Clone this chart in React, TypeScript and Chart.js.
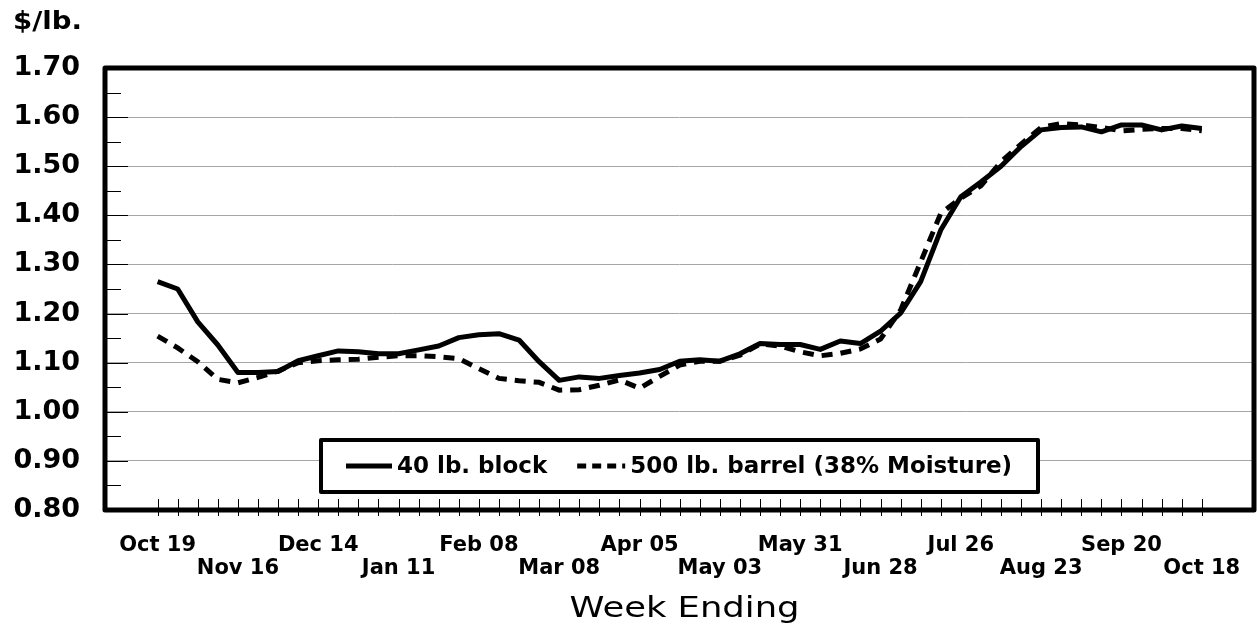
import React, { useEffect, useRef } from "react";
import { Chart, registerables } from "chart.js";

Chart.register(...registerables);

// ---- Data ----
const weekLabels = [
  "Oct 19", "Nov 16", "Dec 14", "Jan 11", "Feb 08", "Mar 08", "Apr 05",
  "May 03", "May 31", "Jun 28", "Jul 26", "Aug 23", "Sep 20", "Oct 18",
];

const blockPrices = [
  1.265, 1.25, 1.183, 1.136, 1.08, 1.08, 1.082, 1.104, 1.114, 1.124,
  1.122, 1.118, 1.118, 1.126, 1.134, 1.151, 1.157, 1.159, 1.146, 1.102,
  1.064, 1.071, 1.068, 1.074, 1.079, 1.086, 1.103, 1.106, 1.103, 1.118,
  1.139, 1.137, 1.137, 1.127, 1.144, 1.139, 1.164, 1.201, 1.265, 1.37,
  1.438, 1.468, 1.5, 1.54, 1.574, 1.579, 1.58, 1.57, 1.584, 1.584,
  1.574, 1.582, 1.577,
];

const barrelPrices = [
  1.154, 1.13, 1.102, 1.066, 1.059, 1.07, 1.083, 1.1, 1.104, 1.106,
  1.107, 1.111, 1.114, 1.114, 1.112, 1.108, 1.088, 1.068, 1.063, 1.06,
  1.044, 1.045, 1.054, 1.065, 1.048, 1.072, 1.095, 1.103, 1.103, 1.115,
  1.138, 1.134, 1.122, 1.114, 1.119, 1.128, 1.148, 1.207, 1.305, 1.404,
  1.435, 1.46, 1.509, 1.545, 1.579, 1.587, 1.584, 1.579, 1.572, 1.575,
  1.577, 1.577, 1.572,
];

const yTickValues = [0.8, 0.9, 1.0, 1.1, 1.2, 1.3, 1.4, 1.5, 1.6, 1.7];
const yMinorTickValues = [0.85, 0.95, 1.05, 1.15, 1.25, 1.35, 1.45, 1.55, 1.65];
const seriesNames = ["40 lb. block", "500 lb. barrel (38% Moisture)"];
const yAxisTitle = "$/lb.";
const xAxisTitle = "Week Ending";
const labelEvery = 4;

const FONT = "'DejaVu Sans', 'Liberation Sans', sans-serif";

function drawStretched(
  ctx: CanvasRenderingContext2D,
  text: string,
  x: number,
  y: number,
  font: string,
  targetWidth: number,
  align: "left" | "center" | "right"
) {
  ctx.save();
  ctx.font = font;
  const w = ctx.measureText(text).width;
  const sx = targetWidth / w;
  let left = x;
  if (align === "center") left = x - targetWidth / 2;
  if (align === "right") left = x - targetWidth;
  ctx.translate(left, y);
  ctx.scale(sx, 1);
  ctx.textAlign = "left";
  ctx.textBaseline = "alphabetic";
  ctx.fillText(text, 0, 0);
  ctx.restore();
}

const decorPlugin = {
  id: "decor",
  afterDraw(chart: any) {
    const { ctx, chartArea: ca, scales } = chart;
    const xs = scales.x;
    const ys = scales.y;
    ctx.save();
    ctx.strokeStyle = "#000";
    ctx.fillStyle = "#000";
    ctx.lineWidth = 1;

    // inner y tick marks
    ctx.beginPath();
    yTickValues.forEach((v) => {
      const y = Math.round(ys.getPixelForValue(v)) + 0.5;
      ctx.moveTo(ca.left, y);
      ctx.lineTo(ca.left + 23, y);
    });
    yMinorTickValues.forEach((v) => {
      const y = Math.round(ys.getPixelForValue(v)) + 0.5;
      ctx.moveTo(ca.left, y);
      ctx.lineTo(ca.left + 16, y);
    });
    // weekly x tick marks crossing the bottom axis
    for (let i = 0; i < blockPrices.length; i++) {
      const x = Math.round(xs.getPixelForValue(i)) + 0.5;
      ctx.moveTo(x, ca.bottom - 11);
      ctx.lineTo(x, ca.bottom + 6);
    }
    ctx.stroke();

    // heavy frame
    ctx.lineWidth = 5;
    ctx.lineJoin = "round";
    ctx.strokeRect(ca.left, ca.top, ca.right - ca.left, ca.bottom - ca.top);

    // titles
    drawStretched(ctx, yAxisTitle, ys.right - 23, 29, `bold 25px ${FONT}`, 69, "right");
    drawStretched(
      ctx,
      xAxisTitle,
      (ca.left + ca.right) / 2 + 5,
      617,
      `28px ${FONT}`,
      230,
      "center"
    );

    // legend box inside the plot
    const boxW = 717;
    const boxH = 52;
    const bx = Math.round((ca.left + ca.right) / 2 - boxW / 2);
    const by = 440;
    ctx.fillStyle = "#fff";
    ctx.fillRect(bx, by, boxW, boxH);
    ctx.lineWidth = 4;
    ctx.strokeStyle = "#000";
    ctx.strokeRect(bx, by, boxW, boxH);

    const ds = chart.data.datasets;
    const cy = by + boxH / 2;
    ctx.font = `bold 23px ${FONT}`;
    ctx.fillStyle = "#000";
    ctx.textBaseline = "middle";
    ctx.textAlign = "left";

    // entry 1: solid
    let sx = bx + 25;
    ctx.lineWidth = 5;
    ctx.setLineDash([]);
    ctx.beginPath();
    ctx.moveTo(sx, cy);
    ctx.lineTo(sx + 46, cy);
    ctx.stroke();
    ctx.fillText(ds[0].label, sx + 51, cy + 1);
    const w1 = ctx.measureText(ds[0].label).width;

    // entry 2: dashed
    sx = sx + 51 + w1 + 30;
    ctx.setLineDash([9, 6]);
    ctx.beginPath();
    ctx.moveTo(sx, cy);
    ctx.lineTo(sx + 48, cy);
    ctx.stroke();
    ctx.setLineDash([]);
    ctx.fillText(ds[1].label, sx + 53, cy + 1);

    ctx.restore();
  },
};

export default function App() {
  const canvasRef = useRef<HTMLCanvasElement | null>(null);

  useEffect(() => {
    const canvas = canvasRef.current;
    if (!canvas) return;

    const chart = new Chart(canvas, {
      type: "line",
      data: {
        datasets: [
          {
            label: seriesNames[0],
            data: blockPrices.map((v, i) => ({ x: i, y: v })),
            borderColor: "#000",
            borderWidth: 5,
            pointRadius: 0,
            tension: 0,
            borderJoinStyle: "round",
            fill: false,
            order: 1,
          },
          {
            label: seriesNames[1],
            data: barrelPrices.map((v, i) => ({ x: i, y: v })),
            borderColor: "#000",
            borderWidth: 5,
            borderDash: [11, 8],
            pointRadius: 0,
            tension: 0,
            fill: false,
            order: 0,
          },
        ],
      },
      options: {
        animation: false,
        responsive: false,
        devicePixelRatio: 1,
        layout: { padding: { top: 68, right: 3, left: 0, bottom: 0 } },
        plugins: {
          legend: { display: false },
          tooltip: { enabled: false },
          title: { display: false },
        },
        scales: {
          x: {
            type: "linear",
            min: -2.62,
            max: 54.6,
            afterBuildTicks: (s: any) => {
              s.ticks = blockPrices.map((_, i) => ({ value: i }));
            },
            afterFit: (s: any) => {
              s.height = 114;
              s.paddingLeft = 0;
              s.paddingRight = 0;
            },
            grid: { display: false, drawTicks: false },
            border: { display: false },
            ticks: {
              autoSkip: false,
              maxRotation: 0,
              minRotation: 0,
              padding: 25,
              color: "#000",
              font: { family: FONT, weight: "bold", size: 21, lineHeight: 1.05 },
              callback: (value: any) => {
                const i = Number(value);
                if (i % labelEvery !== 0) return "";
                const k = i / labelEvery;
                const lab = weekLabels[k];
                if (lab === undefined) return "";
                return k % 2 === 0 ? lab : ["", lab];
              },
            },
          },
          y: {
            min: 0.8,
            max: 1.7,
            afterBuildTicks: (s: any) => {
              s.ticks = yTickValues.map((v) => ({ value: v }));
            },
            afterFit: (s: any) => {
              s.width = 105;
              s.paddingTop = 0;
              s.paddingBottom = 0;
            },
            grid: { color: "#a6a6a6", lineWidth: 1, drawTicks: false },
            border: { display: false },
            ticks: {
              padding: 25,
              color: "#000",
              font: { family: FONT, weight: "bold", size: 27 },
              callback: (value: any) => Number(value).toFixed(2),
            },
          },
        },
      },
      plugins: [decorPlugin],
    });

    return () => chart.destroy();
  }, []);

  return (
    <div
      style={{
        position: "fixed",
        left: 0,
        top: 0,
        width: 1257,
        height: 624,
        background: "#fff",
      }}
    >
      <canvas ref={canvasRef} width={1257} height={624} />
    </div>
  );
}
